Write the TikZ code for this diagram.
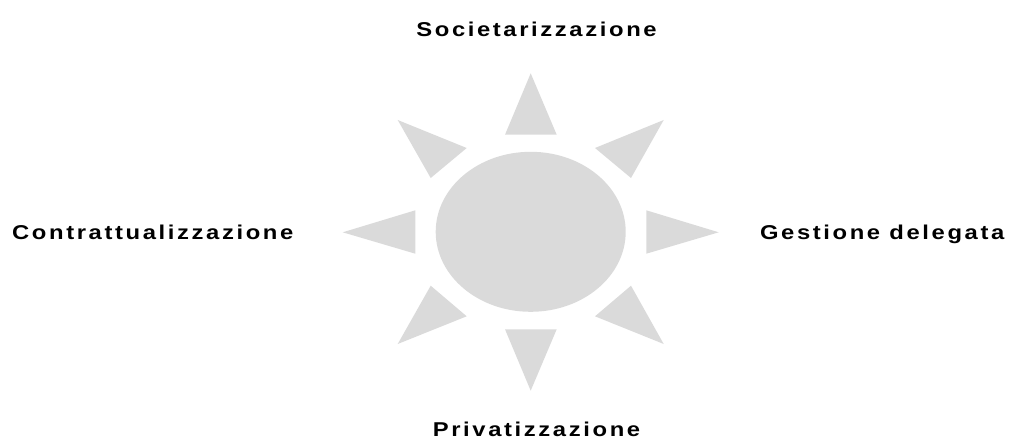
\documentclass[tikz,border=0pt]{standalone}
\usepackage{fontspec}
\setmainfont{Liberation Sans}[LetterSpace=11]
\usetikzlibrary{shapes.geometric}
\definecolor{sungray}{RGB}{218,218,218}
\newcommand\widetext[1]{\scalebox{1.19}[1]{#1}}
\tikzset{
  sunlabel/.style={font=\fontsize{20}{24}\bfseries\selectfont,inner sep=0pt},
  ray/.style={fill=sungray}
}
\begin{document}
\begin{tikzpicture}[x=1pt,y=-1pt]
\useasboundingbox (0,0) rectangle (1009,441);

\node (sun) at (530.7,231.8) [ellipse,fill=sungray,minimum width=190pt,minimum height=160pt,inner sep=0pt] {};

\fill [ray] (530.7,73.3) -- (556.7,134.7) -- (505,134.7) -- cycle;
\fill [ray] (530.7,390.7) -- (556.7,329.3) -- (505,329.3) -- cycle;
\fill [ray] (342.7,232.3) -- (415.3,210.3) -- (415.3,253.7) -- cycle;
\fill [ray] (718.7,232.3) -- (646.3,210.3) -- (646.3,253.7) -- cycle;
\fill [ray] (397.7,120) -- (466.7,148) -- (430.7,178) -- cycle;
\fill [ray] (663.7,120) -- (595,148) -- (631,178) -- cycle;
\fill [ray] (397.7,344) -- (466.7,316.3) -- (430.7,285.7) -- cycle;
\fill [ray] (663.7,344) -- (595,316.3) -- (631,285.7) -- cycle;

\node (top) at (536.5,36.7) [sunlabel,anchor=base] {\widetext{Societarizzazione}};
\node (bottom) at (536.5,436) [sunlabel,anchor=base] {\widetext{Privatizzazione}};
\node (left) at (12,239.3) [sunlabel,anchor=base west] {\widetext{Contrattualizzazione}};
\node (right) at (1004.5,239.3) [sunlabel,anchor=base east] {\widetext{Gestione delegata}};

\end{tikzpicture}
\end{document}
